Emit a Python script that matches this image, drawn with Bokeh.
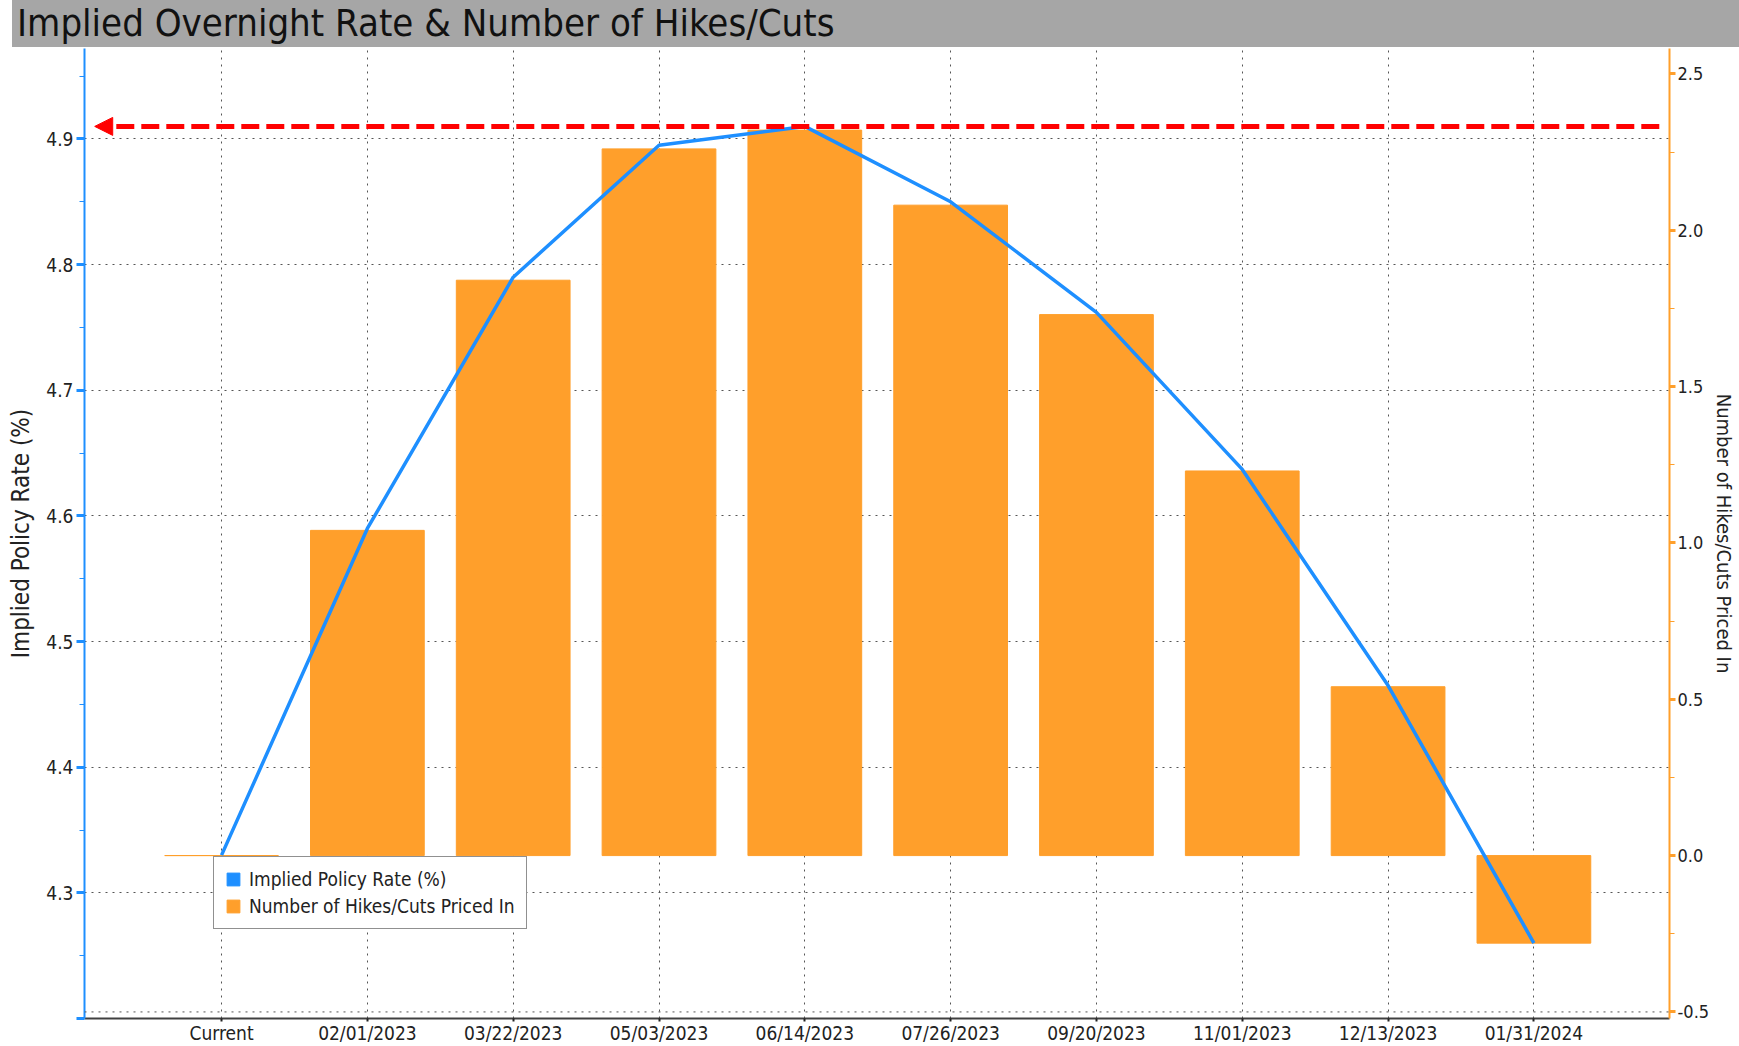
from bokeh.plotting import figure
from bokeh.models import (Range1d, LinearAxis, FixedTicker, Legend, LegendItem,
                          Arrow, NormalHead, Div, ColumnDataSource, Span)
from bokeh.layouts import column
from bokeh.embed import file_html
from bokeh.resources import INLINE

categories = ["Current", "02/01/2023", "03/22/2023", "05/03/2023", "06/14/2023",
              "07/26/2023", "09/20/2023", "11/01/2023", "12/13/2023", "01/31/2024"]
implied_rate = [4.33, 4.59, 4.79, 4.895, 4.91, 4.85, 4.762, 4.637, 4.465, 4.26]
hikes_cuts = [0.0, 1.04, 1.84, 2.26, 2.32, 2.08, 1.73, 1.23, 0.54, -0.28]
left_ticks = [4.2, 4.3, 4.4, 4.5, 4.6, 4.7, 4.8, 4.9]
left_minor = [4.25, 4.35, 4.45, 4.55, 4.65, 4.75, 4.85, 4.95]
right_ticks = [-0.5, 0.0, 0.5, 1.0, 1.5, 2.0, 2.5]
right_minor = [-0.25, 0.25, 0.75, 1.25, 1.75, 2.25]

FONT = "DejaVu Sans Condensed"
BLUE = "#1e8fff"
ORANGE = "#ff9f2b"
TXT = "#222222"

xs = list(range(len(categories)))
src = ColumnDataSource(dict(x=xs, rate=implied_rate, hikes=hikes_cuts))

title = Div(text="Implied Overnight Rate &amp; Number of Hikes/Cuts", width=1727, height=47,
            margin=(0, 0, 0, 12),
            styles={"background-color": "#a6a6a6", "font-family": FONT, "font-size": "38px",
                    "line-height": "47px", "padding-left": "5px", "color": "#111111",
                    "box-sizing": "border-box", "overflow": "hidden", "white-space": "nowrap"})

x_range = Range1d(-0.94, 9.93)
p = figure(width=1739, height=999, x_range=x_range, y_range=Range1d(4.2, 4.972),
           output_backend="svg", toolbar_location=None,
           min_border_left=84, min_border_right=69, min_border_top=1, min_border_bottom=26)
p.extra_y_ranges = {"hikes": Range1d(-0.521, 2.581)}
p.outline_line_color = None
p.background_fill_color = "white"

# grids
p.xgrid.ticker = FixedTicker(ticks=xs)
p.ygrid.ticker = FixedTicker(ticks=left_ticks[1:])
for g in (p.xgrid[0], p.ygrid[0]):
    g.grid_line_color = "#555555"
    g.grid_line_dash = "2 5"
    g.grid_line_width = 1
p.add_layout(Span(location=right_ticks[0], dimension="width", y_range_name="hikes",
                  line_color="#555555", line_dash="2 5", line_width=1))

# bars and line
bars = p.vbar(x="x", top="hikes", bottom=0, width=0.78, y_range_name="hikes",
              fill_color=ORANGE, line_color=ORANGE, line_width=1, source=src)
p.line("x", "rate", line_color=BLUE, line_width=3.5, source=src)
nan = float("nan")
dummy = p.vbar(x=[nan], top=[nan], bottom=[nan], width=0.5, fill_color=BLUE, line_color=BLUE)

# red dashed arrow at peak
peak = max(implied_rate)
p.add_layout(Arrow(end=NormalHead(size=18, fill_color="#ff0000", line_color="#ff0000", line_width=1),
                   x_start=x_range.end - 0.07, y_start=peak,
                   x_end=x_range.start + 0.07, y_end=peak,
                   line_color="#ff0000", line_width=5, line_dash="18 7"))

# left axis
ya = p.yaxis[0]
ya.ticker = FixedTicker(ticks=left_ticks, minor_ticks=left_minor)
ya.major_label_overrides = {4.2: ""}
ya.axis_line_color = BLUE
ya.axis_line_width = 2
ya.major_tick_line_color = BLUE
ya.major_tick_line_width = 3
ya.major_tick_out = 8
ya.major_tick_in = 0
ya.minor_tick_line_color = BLUE
ya.minor_tick_line_width = 1
ya.minor_tick_out = 5
ya.minor_tick_in = 0
ya.major_label_text_font = FONT
ya.major_label_text_font_size = "19px"
ya.major_label_text_color = TXT
ya.major_label_standoff = 3
ya.axis_label = "Implied Policy Rate (%)"
ya.axis_label_text_font = FONT
ya.axis_label_text_font_size = "24px"
ya.axis_label_text_font_style = "normal"
ya.axis_label_text_color = TXT
ya.axis_label_standoff = 8

# right axis
ra = LinearAxis(y_range_name="hikes",
                ticker=FixedTicker(ticks=right_ticks, minor_ticks=right_minor))
ra.major_label_overrides = {t: f"{t:.1f}" for t in right_ticks}
ra.axis_line_color = ORANGE
ra.axis_line_width = 2
ra.major_tick_line_color = ORANGE
ra.major_tick_line_width = 3
ra.major_tick_out = 6
ra.major_tick_in = 0
ra.minor_tick_line_color = ORANGE
ra.minor_tick_out = 5
ra.minor_tick_in = 0
ra.major_label_text_font = FONT
ra.major_label_text_font_size = "18px"
ra.major_label_text_color = TXT
ra.major_label_standoff = 2
ra.axis_label = "Number of Hikes/Cuts Priced In"
ra.axis_label_text_font = FONT
ra.axis_label_text_font_size = "20px"
ra.axis_label_text_font_style = "normal"
ra.axis_label_text_color = TXT
ra.axis_label_standoff = 0
p.add_layout(ra, "right")

# bottom axis
xa = p.xaxis[0]
xa.ticker = FixedTicker(ticks=xs)
xa.major_label_overrides = {i: c for i, c in enumerate(categories)}
xa.axis_line_color = "#404040"
xa.axis_line_width = 2
xa.major_tick_line_color = "#222222"
xa.major_tick_line_width = 2
xa.major_tick_out = 3
xa.major_tick_in = 0
xa.minor_tick_line_color = None
xa.major_label_text_font = FONT
xa.major_label_text_font_size = "19px"
xa.major_label_text_color = TXT
xa.major_label_standoff = 0

legend = Legend(items=[LegendItem(label="Implied Policy Rate (%)", renderers=[dummy]),
                       LegendItem(label="Number of Hikes/Cuts Priced In", renderers=[bars])],
                location=(129, 89), border_line_color="#222222", border_line_width=1,
                background_fill_color="white", background_fill_alpha=1.0,
                label_text_font=FONT, label_text_font_size="19px", label_text_color=TXT,
                glyph_height=16, glyph_width=16, label_height=18, spacing=5,
                padding=11, margin=0, label_standoff=8)
p.add_layout(legend, "center")

layout = column(title, p, spacing=0)
open("out.html", "w").write(file_html(layout, INLINE))
